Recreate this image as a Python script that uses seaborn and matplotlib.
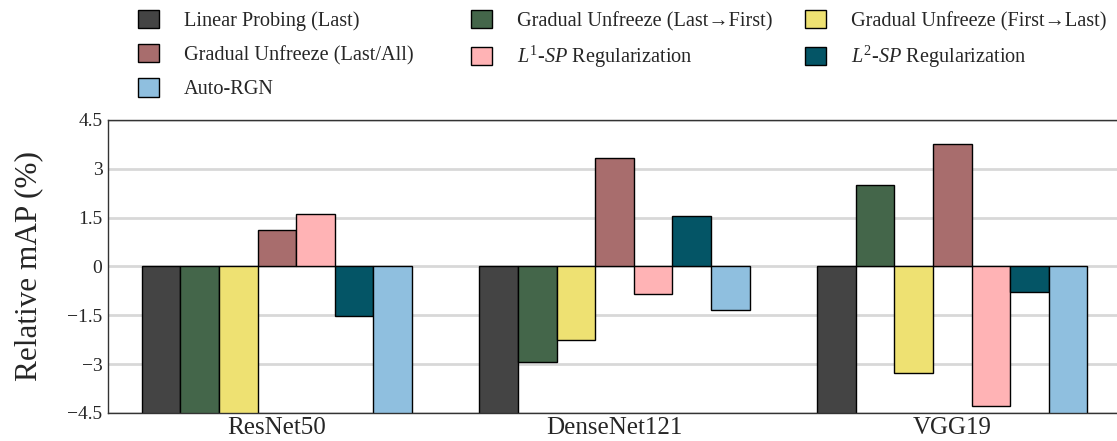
import matplotlib
matplotlib.use("Agg")
import matplotlib.pyplot as plt
import pandas as pd
import seaborn as sns

# 数据（从原图读取，-4.6 表示被截断到坐标轴下沿的柱子）
models = ["ResNet50", "DenseNet121", "VGG19"]
methods = [
    "Linear Probing (Last)",
    "Gradual Unfreeze (Last\u2192First)",
    "Gradual Unfreeze (First\u2192Last)",
    "Gradual Unfreeze (Last/All)",
    "$L^{\\mathit{1}}$-$SP$ Regularization",
    "$L^{\\mathit{2}}$-$SP$ Regularization",
    "Auto-RGN",
]
linear_probing = [-4.6, -4.6, -4.6]
gu_last_first = [-4.6, -2.92, 2.49]
gu_first_last = [-4.6, -2.27, -3.27]
gu_last_all = [1.11, 3.33, 3.76]
l1_sp = [1.61, -0.84, -4.28]
l2_sp = [-1.53, 1.54, -0.79]
auto_rgn = [-4.6, -1.33, -4.6]
colors = ["#444444", "#44664a", "#eee172", "#a86d6d", "#ffb3b5", "#045566", "#8fbfdf"]
yticks = [-4.5, -3, -1.5, 0, 1.5, 3, 4.5]
ytick_labels = ["\u22124.5", "\u22123", "\u22121.5", "0", "1.5", "3", "4.5"]

series = [linear_probing, gu_last_first, gu_first_last, gu_last_all, l1_sp, l2_sp, auto_rgn]
rows = []
for m, vals in zip(methods, series):
    for model, v in zip(models, vals):
        rows.append({"model": model, "method": m, "value": v})
df = pd.DataFrame(rows)

sns.set_style("white")
plt.rcParams["font.family"] = ["Liberation Serif", "DejaVu Serif"]
plt.rcParams["mathtext.fontset"] = "custom"
plt.rcParams["mathtext.rm"] = "Liberation Serif"
plt.rcParams["mathtext.it"] = "Liberation Serif:italic"

fig = plt.figure(figsize=(11.17, 4.41), dpi=100)
ax = fig.add_axes([0.0967, 0.0635, 0.9033, 0.6644])

sns.barplot(data=df, x="model", y="value", hue="method", hue_order=methods,
            palette=colors, saturation=1, edgecolor="black", linewidth=1,
            ax=ax)

handles, labels = ax.get_legend_handles_labels()
ax.get_legend().remove()

ax.set_ylim(-4.5, 4.5)
ax.set_xlim(-0.5, 2.488)
ax.set_yticks(yticks)
ax.set_yticklabels(ytick_labels, fontsize=14)
ax.tick_params(axis="y", length=0, pad=4)
ax.tick_params(axis="x", length=0, pad=3, labelsize=18)
ax.set_xlabel("")
ax.set_ylabel("Relative mAP (%)", fontsize=22.5, labelpad=17)
ax.yaxis.grid(True, color="#d8d8d8", linewidth=2)
ax.set_axisbelow(True)
for s in ["top", "left", "bottom"]:
    ax.spines[s].set_color("#333333")
    ax.spines[s].set_linewidth(1)
ax.spines["right"].set_visible(False)

# 图例：三列，逐行排列
col_x = [138 / 1117, 471 / 1117, 805 / 1117]
cols = [[0, 3, 6], [1, 4], [2, 5]]
for x, idx in zip(col_x, cols):
    leg = fig.legend([handles[i] for i in idx], [labels[i] for i in idx],
                     loc="upper left", bbox_to_anchor=(x, 1 - 10 / 441),
                     frameon=False, fontsize=14.6, handlelength=1.05,
                     handleheight=1.0, handletextpad=1.2, labelspacing=0.65,
                     borderpad=0, borderaxespad=0)

fig.savefig("out.png", dpi=100)
